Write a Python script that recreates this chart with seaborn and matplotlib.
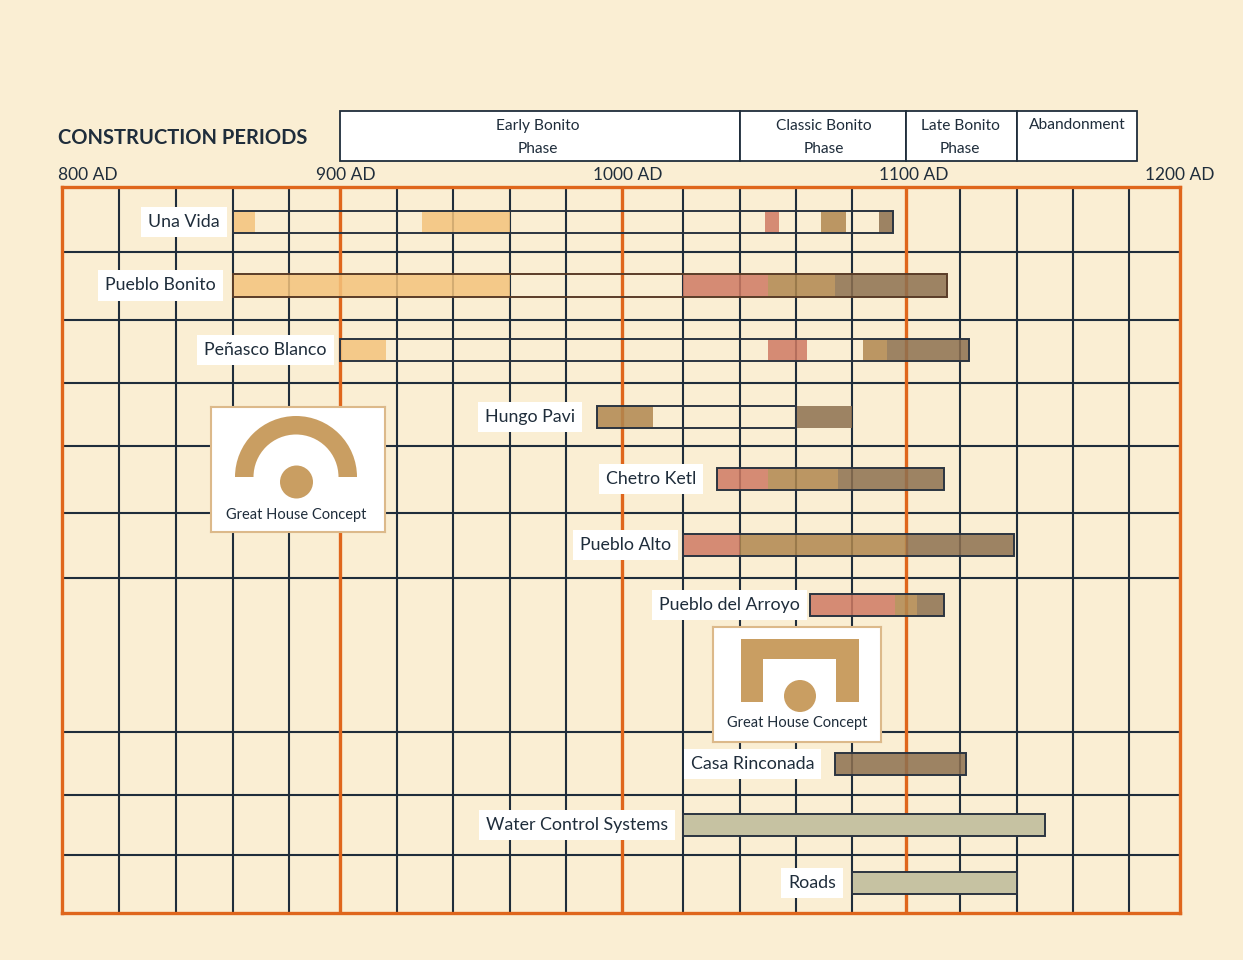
import matplotlib
matplotlib.use("Agg")
import numpy as np
import matplotlib.pyplot as plt
import matplotlib.transforms as mtransforms
from matplotlib.patches import Wedge, Circle, Polygon
import seaborn as sns

# ------------------------------------------------------------
# data (years AD)
# ------------------------------------------------------------
sites = ["Una Vida", "Pueblo Bonito", "Peñasco Blanco", "Hungo Pavi",
         "Chetro Ketl", "Pueblo Alto", "Pueblo del Arroyo",
         "Casa Rinconada", "Water Control Systems", "Roads"]
span_start = [860, 860, 900, 991, 1032, 1020, 1065, 1074, 1020, 1080]
span_end = [1095, 1115, 1123, 1060, 1114, 1139, 1114, 1122, 1150, 1140]

seg_site = ["Una Vida"] * 5 + ["Pueblo Bonito"] * 4 + ["Peñasco Blanco"] * 4 \
    + ["Hungo Pavi"] * 2 + ["Chetro Ketl"] * 3 + ["Pueblo Alto"] * 3 \
    + ["Pueblo del Arroyo"] * 3 + ["Casa Rinconada", "Water Control Systems", "Roads"]
seg_start = [860, 929, 1049, 1069, 1090,
             860, 1020, 1050, 1074,
             900, 1050, 1084, 1093,
             991, 1060,
             1032, 1050, 1075,
             1020, 1040, 1100,
             1065, 1096, 1104,
             1074, 1020, 1080]
seg_end = [868, 960, 1054, 1078, 1095,
           960, 1050, 1074, 1115,
           916, 1064, 1093, 1123,
           1010, 1080,
           1050, 1075, 1114,
           1040, 1100, 1139,
           1096, 1104, 1114,
           1122, 1150, 1140]
seg_kind = ["early", "early", "pink", "tan", "dark",
            "early", "pink", "tan", "dark",
            "early", "pink", "tan", "dark",
            "tan", "dark",
            "pink", "tan", "dark",
            "pink", "tan", "dark",
            "pink", "tan", "dark",
            "dark", "infra", "infra"]

phase_names = ["Early Bonito\nPhase", "Classic Bonito\nPhase", "Late Bonito\nPhase", "Abandonment"]
phase_start = [900, 1040, 1100, 1140]
phase_end = [1040, 1100, 1140, 1183]

tick_years = [800, 900, 1000, 1100, 1200]
tick_labels = ["800 AD", "900 AD", "1000 AD", "1100 AD", "1200 AD"]

# ------------------------------------------------------------
# layout / style
# ------------------------------------------------------------
# the hand-drawn grid is not quite even: pixel position of every 20-year line
grid_years = list(range(800, 1201, 20))
grid_px = [62, 119, 176, 233, 289, 340, 397, 453, 510, 566, 622,
           683, 740, 796, 852, 906, 960, 1017, 1073, 1129, 1180]


def fwd(v):
    return np.interp(v, grid_years, grid_px)


def inv(v):
    return np.interp(v, grid_px, grid_years)


row_y = [0, 1, 2.02, 3.07, 4.05, 5.09, 6.03, 8.54, 9.5, 10.41]
hline_y = [0.47, 1.54, 2.54, 3.53, 4.58, 5.61, 8.03, 9.02, 9.97]
label_gap = [13, 17, 13, 22, 21, 12, 10, 21, 15, 16]
tick_dx = [-4, 6, 6, 8, 0]
vline_years = [y for y in range(820, 1200, 20) if y % 100 != 0]
century_years = [900, 1000, 1100]

BG = "#faeed3"
NAVY = "#1f2d3b"
ORANGE = "#df661c"
TAN_ICON = "#c99e62"
kind_color = {"early": "#f4c37c", "pink": "#cf7a63", "tan": "#b0874f",
              "dark": "#8d7050", "infra": "#c6c2a2"}

sns.set_theme(style="white")
plt.rcParams["font.family"] = ["Lato", "DejaVu Sans"]
plt.rcParams["text.color"] = NAVY

W, H = 1243, 960
fig = plt.figure(figsize=(W / 100, H / 100), dpi=100, facecolor=BG)


def px_axes(x0, y0, x1, y1):
    return fig.add_axes([x0 / W, 1 - y1 / H, (x1 - x0) / W, (y1 - y0) / H])


ax = px_axes(62, 187, 1180, 913)
ax.set_facecolor(BG)
ax.set_xscale("function", functions=(fwd, inv))
ax.set_xlim(800, 1200)
ax.set_ylim(10.88, -0.55)
ax.set_xticks([])
ax.set_yticks([])
ax.minorticks_off()
for s in ax.spines.values():
    s.set_color(ORANGE)
    s.set_linewidth(2.4)
    s.set_zorder(6)

# grid
for yy in hline_y:
    ax.axhline(yy, color=NAVY, lw=1.5, zorder=1)
for xx in vline_years:
    ax.axvline(xx, color=NAVY, lw=1.5, zorder=1)
for xx in century_years:
    ax.axvline(xx, color=ORANGE, lw=2.4, zorder=1.5)

site_row = dict(zip(sites, row_y))
BAR_H = 0.35

# coloured building phases
for s, a, b, k in zip(seg_site, seg_start, seg_end, seg_kind):
    alpha = 1.0 if k == "infra" else 0.85
    ax.barh(site_row[s], b - a, left=a, height=BAR_H, color=kind_color[k],
            alpha=alpha, linewidth=0, zorder=2)

# outline of the whole span
for s, a, b in zip(sites, span_start, span_end):
    ec = "#5a3d28" if s == "Pueblo Bonito" else "#2b3440"
    ax.barh(site_row[s], b - a, left=a, height=BAR_H, fill=False,
            edgecolor=ec, linewidth=1.4, zorder=3)

# site labels
for s, a, g in zip(sites, span_start, label_gap):
    ax.annotate(s, xy=(a, site_row[s]), xytext=(-g, 0), textcoords="offset pixels",
                ha="right", va="center", fontsize=12.8, color=NAVY, zorder=5,
                bbox=dict(boxstyle="square,pad=0.4", fc="white", ec="none"))

# year labels above the frame
trans = mtransforms.blended_transform_factory(ax.transData, ax.transAxes)
for yr, lab, dx in zip(tick_years, tick_labels, tick_dx):
    ax.annotate(lab, xy=(yr, 1.0165), xycoords=trans, xytext=(dx, 0),
                textcoords="offset pixels", ha="left" if yr == 800 else "center",
                va="center", fontsize=12.5, color=NAVY, annotation_clip=False)

# phase header
hax = px_axes(62, 111, 1180, 161)
hax.set_xscale("function", functions=(fwd, inv))
hax.set_xlim(800, 1200)
hax.set_ylim(0, 1)
hax.axis("off")
for name, a, b in zip(phase_names, phase_start, phase_end):
    hax.barh(0.5, b - a, left=a, height=1, color="white", edgecolor=NAVY,
             linewidth=1.3, clip_on=False)
    yy = 0.47 if "\n" in name else 0.72
    hax.text((a + b) / 2, yy, name, ha="center", va="center", fontsize=11.2,
             linespacing=1.75, color=NAVY)

fig.text(58 / W, 1 - 138 / H, "CONSTRUCTION PERIODS", ha="left", va="center",
         fontsize=14.5, fontweight="bold", color=NAVY)


# great house icons
def icon_box(x0, y0, x1, y1):
    b = px_axes(x0, y0, x1, y1)
    b.set_xlim(0, x1 - x0)
    b.set_ylim(y1 - y0, 0)
    b.set_facecolor("white")
    b.set_xticks([])
    b.set_yticks([])
    for s in b.spines.values():
        s.set_color("#dcb98a")
        s.set_linewidth(1.5)
    return b


b1 = icon_box(211, 407, 385, 532)
b1.add_patch(Wedge((85, 70), 61, 180, 360, width=18.5, color=TAN_ICON, lw=0))
b1.add_patch(Circle((85.5, 75), 16.5, color=TAN_ICON, lw=0))
b1.text(85, 108, "Great House Concept", ha="center", va="center",
        fontsize=10.5, color=NAVY)

b2 = icon_box(713, 627, 881, 742)
b2.add_patch(Polygon([(28, 75), (28, 12), (146, 12), (146, 75), (122.5, 75),
                      (122.5, 32), (50, 32), (50, 75)], closed=True,
                     color=TAN_ICON, lw=0))
b2.add_patch(Circle((87, 69), 16, color=TAN_ICON, lw=0))
b2.text(84, 96, "Great House Concept", ha="center", va="center",
        fontsize=10.5, color=NAVY)

fig.savefig("out.png", dpi=100, facecolor=BG)
